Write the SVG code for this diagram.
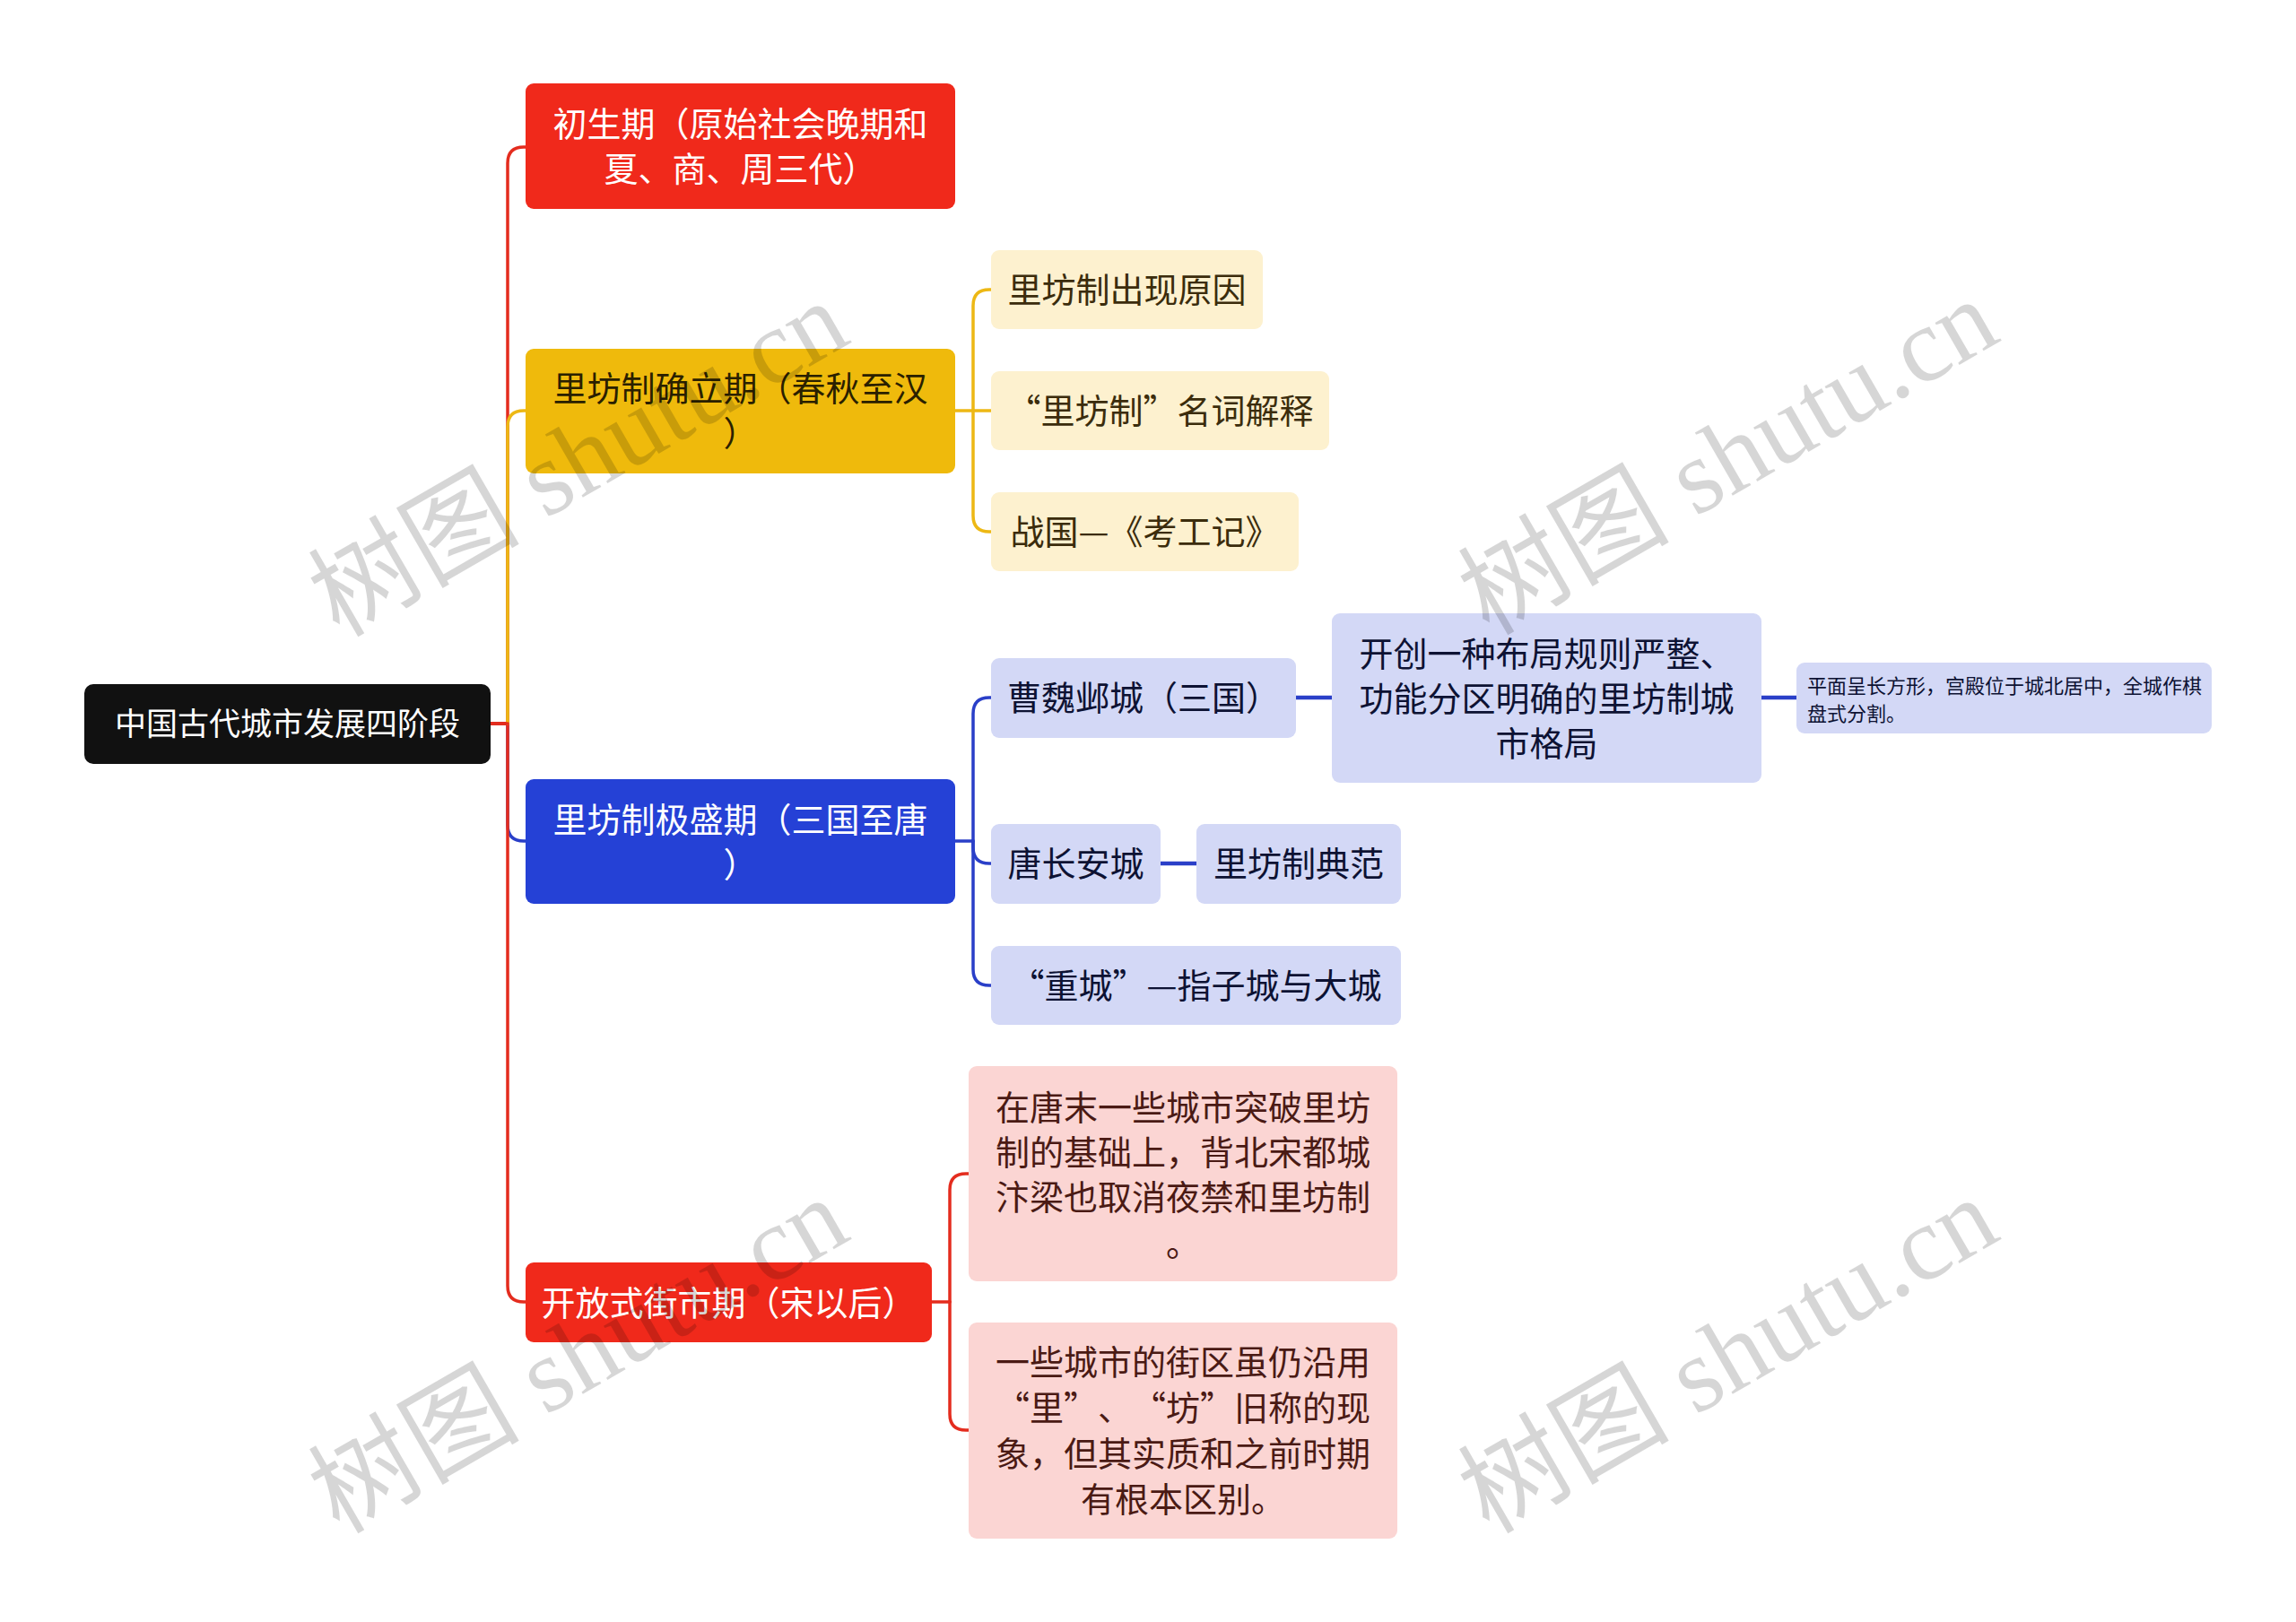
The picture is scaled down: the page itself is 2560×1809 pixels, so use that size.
<svg xmlns="http://www.w3.org/2000/svg" width="2560" height="1809" viewBox="0 0 2560 1809">
<style>
text{font-family:"Noto Sans CJK SC","Noto Sans",sans-serif;dominant-baseline:central;text-anchor:middle;text-spacing-trim:space-all;font-feature-settings:"chws" 0,"halt" 0}
.t0{font-size:35px;fill:#ffffff}
.t1{font-size:38px}
.w{fill:#ffffff}
.dy{fill:#2a2000}
.ty{fill:#3b2c0c}
.tb{fill:#0d1233}
.tr{fill:#4a1a14}
.ts{font-size:22px;fill:#0d1233;text-anchor:start}
.c{fill:none;stroke-width:3.5;stroke-linecap:round}
.cr{stroke:#E42C1E}
.cy{stroke:#EDB814}
.cb{stroke:#2A3FC8}
.thick{stroke-width:4.5}
.wm{font-family:"Liberation Serif","Noto Sans CJK SC",serif;font-size:118px;fill:#000;fill-opacity:0.16}
</style>
<rect width="2560" height="1809" fill="#ffffff"/>
<g id="connectors">
<path class="c cb" d="M547 807 H566 V920 Q566 938 584 938 H587"/>
<path class="c cr" d="M547 807 H566 V1434 Q566 1452 584 1452 H587"/>
<path class="c cr" d="M547 807 H566 V182 Q566 164 584 164 H587"/>
<path class="c cy" d="M566 807 V476 Q566 458 584 458 H587"/>
<path class="c cr" d="M547 807 H566"/>
<path class="c cy" d="M1065 458 H1105"/>
<path class="c cy" d="M1085 458 V341 Q1085 323 1103 323 H1105"/>
<path class="c cy" d="M1085 458 V575 Q1085 593 1103 593 H1105"/>
<path class="c cb" d="M1065 938 H1085"/>
<path class="c cb" d="M1085 938 V796 Q1085 778 1103 778 H1105"/>
<path class="c cb" d="M1085 938 V945 Q1085 963 1103 963 H1105"/>
<path class="c cb" d="M1085 938 V1081 Q1085 1099 1103 1099 H1105"/>
<path class="c cb thick" d="M1444 778 H1485"/>
<path class="c cb thick" d="M1964 778 H2003"/>
<path class="c cb thick" d="M1294 963 H1334"/>
<path class="c cr" d="M1039 1452 H1059"/>
<path class="c cr" d="M1059 1452 V1327 Q1059 1309 1077 1309 H1080"/>
<path class="c cr" d="M1059 1452 V1577 Q1059 1595 1077 1595 H1080"/>
</g>
<g id="root">
<rect x="94" y="763" width="453" height="89" rx="10" fill="#111111"/>
<text class="t0" x="320.5" y="804">中国古代城市发展四阶段</text>
</g>
<g id="n1">
<rect x="586" y="93" width="479" height="140" rx="9" fill="#F0291B"/>
<text class="t1 w" x="825.5" y="135">初生期（原始社会晚期和</text>
<text class="t1 w" x="825.5" y="185">夏、商、周三代）</text>
</g>
<g id="n2">
<rect x="586" y="389" width="479" height="139" rx="9" fill="#EFBA0C"/>
<text class="t1 dy" x="825.5" y="430">里坊制确立期（春秋至汉</text>
<text class="t1 dy" x="825.5" y="480">）</text>
</g>
<g id="n2a">
<rect x="1105" y="279" width="303" height="88" rx="9" fill="#FDF1CF"/>
<text class="t1 ty" x="1256.5" y="320">里坊制出现原因</text>
</g>
<g id="n2b">
<rect x="1105" y="414" width="377" height="88" rx="9" fill="#FDF1CF"/>
<text class="t1 ty" x="1293.5" y="455">“里坊制”名词解释</text>
</g>
<g id="n2c">
<rect x="1105" y="549" width="343" height="88" rx="9" fill="#FDF1CF"/>
<text class="t1 ty" x="1276.5" y="590">战国—《考工记》</text>
</g>
<g id="n3">
<rect x="586" y="869" width="479" height="139" rx="9" fill="#2541D6"/>
<text class="t1 w" x="825.5" y="911">里坊制极盛期（三国至唐</text>
<text class="t1 w" x="825.5" y="961">）</text>
</g>
<g id="n3a">
<rect x="1105" y="734" width="340" height="89" rx="9" fill="#D3D8F6"/>
<text class="t1 tb" x="1275" y="775">曹魏邺城（三国）</text>
</g>
<g id="n3a1">
<rect x="1485" y="684" width="479" height="189" rx="9" fill="#D3D8F6"/>
<text class="t1 tb" x="1724.5" y="726">开创一种布局规则严整、</text>
<text class="t1 tb" x="1724.5" y="776">功能分区明确的里坊制城</text>
<text class="t1 tb" x="1724.5" y="826">市格局</text>
</g>
<g id="n3a2">
<rect x="2003" y="739" width="463" height="79" rx="9" fill="#D3D8F6"/>
<text class="ts" x="2015" y="763">平面呈长方形，宫殿位于城北居中，全城作棋</text>
<text class="ts" x="2015" y="794">盘式分割。</text>
</g>
<g id="n3b">
<rect x="1105" y="919" width="189" height="89" rx="9" fill="#D3D8F6"/>
<text class="t1 tb" x="1199.5" y="960">唐长安城</text>
</g>
<g id="n3b1">
<rect x="1334" y="919" width="228" height="89" rx="9" fill="#D3D8F6"/>
<text class="t1 tb" x="1448" y="960">里坊制典范</text>
</g>
<g id="n3c">
<rect x="1105" y="1055" width="457" height="88" rx="9" fill="#D3D8F6"/>
<text class="t1 tb" x="1333.5" y="1096">“重城”—指子城与大城</text>
</g>
<g id="n4">
<rect x="586" y="1408" width="453" height="89" rx="9" fill="#F0291B"/>
<text class="t1 w" x="812.5" y="1450">开放式街市期（宋以后）</text>
</g>
<g id="n4a">
<rect x="1080" y="1189" width="478" height="240" rx="9" fill="#FBD5D3"/>
<text class="t1 tr" x="1319" y="1232">在唐末一些城市突破里坊</text>
<text class="t1 tr" x="1319" y="1282">制的基础上，背北宋都城</text>
<text class="t1 tr" x="1319" y="1332">汴梁也取消夜禁和里坊制</text>
<text class="t1 tr" x="1319" y="1384">。</text>
</g>
<g id="n4b">
<rect x="1080" y="1475" width="478" height="241" rx="9" fill="#FBD5D3"/>
<text class="t1 tr" x="1319" y="1516">一些城市的街区虽仍沿用</text>
<text class="t1 tr" x="1319" y="1567">“里”、“坊”旧称的现</text>
<text class="t1 tr" x="1319" y="1618">象，但其实质和之前时期</text>
<text class="t1 tr" x="1319" y="1669">有根本区别。</text>
</g>
<g id="watermarks">
<text class="wm" x="645" y="512" transform="rotate(-30 645 512)">树图 shutu.cn</text>
<text class="wm" x="1927" y="510" transform="rotate(-30 1927 510)">树图 shutu.cn</text>
<text class="wm" x="645" y="1512" transform="rotate(-30 645 1512)">树图 shutu.cn</text>
<text class="wm" x="1927" y="1512" transform="rotate(-30 1927 1512)">树图 shutu.cn</text>
</g>
</svg>
